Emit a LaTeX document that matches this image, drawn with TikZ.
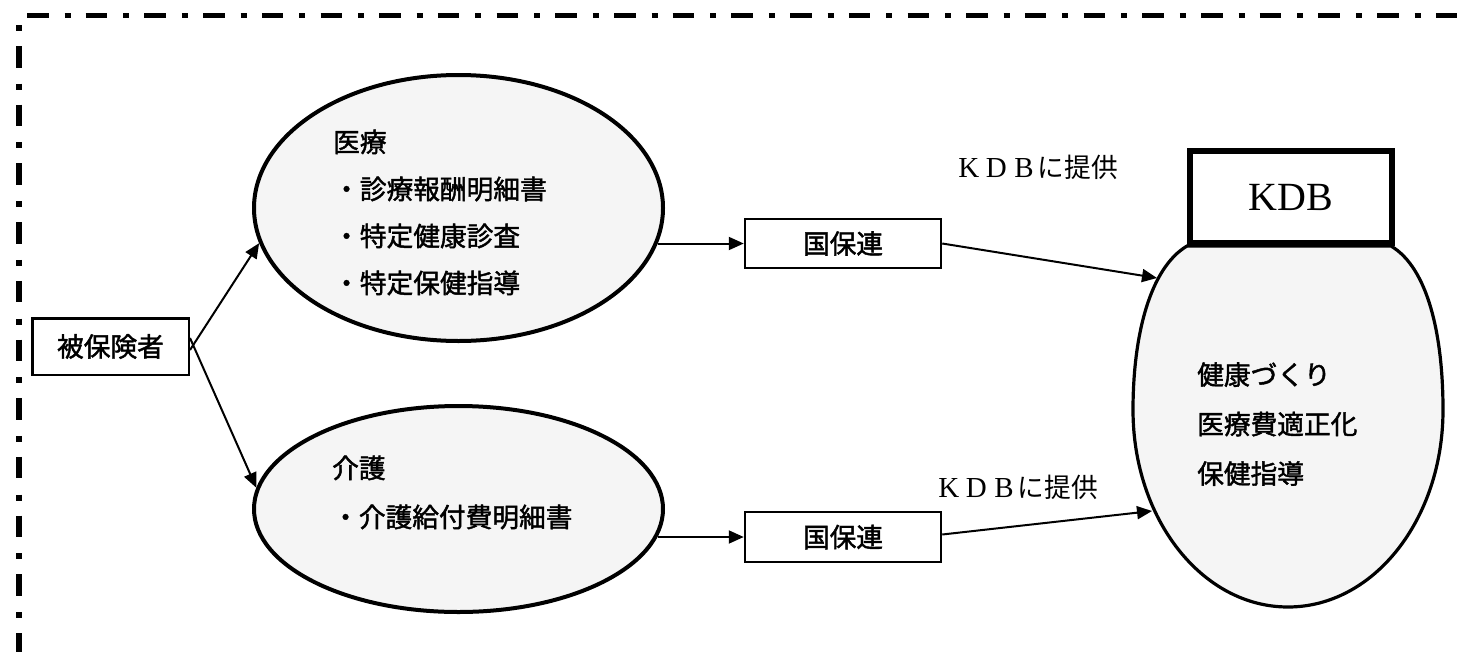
\documentclass[tikz,border=0pt]{standalone}
\usepackage{fontspec}
\setmainfont{Liberation Serif}
\newfontfamily\jp{Noto Sans CJK JP}
\newfontfamily\jpb{Noto Sans CJK JP}[FakeBold=1.6]
\usetikzlibrary{shapes.geometric,arrows.meta,calc}
\begin{document}
\begin{tikzpicture}[x=1pt,y=-1pt,
  jfont/.style={font=\jpb\fontsize{26.7}{47}\selectfont},
  box/.style={draw, rectangle, line width=2.5pt, inner sep=0pt, jfont, fill=white},
  oval/.style={draw, ellipse, line width=4pt, inner sep=0pt, fill=black!4},
  blocktext/.style={jfont, inner sep=0pt, anchor=west, align=left},
  arr/.style={line width=2pt, -{Triangle[length=15pt,width=13pt]}},
  lbl/.style={inner sep=0pt, anchor=west},
  borderline/.style={line width=5.5pt, line cap=butt}
]
\useasboundingbox (0,0) rectangle (1467,651);

% outer dash-dot frame (top and left)
\draw[borderline, dash pattern=on 21.5pt off 16pt on 6pt off 15.2pt] (27,15.7) -- (1490,15.7);
\draw[borderline, line width=6pt, dash pattern=on 6pt off 15pt on 21.5pt off 16.2pt] (19.3,25) -- (19.3,680);

% nodes
\node[box, minimum width=156.5pt, minimum height=56.5pt] (hiho) at (110.5,346.5) {被保険者};

\node[oval, minimum width=409pt, minimum height=266pt] (iryo) at (458.5,208) {};
\node[blocktext] (iryotxt) at (333,212.5) {医療\\・診療報酬明細書\\・特定健康診査\\・特定保健指導};

\node[oval, minimum width=409pt, minimum height=206pt] (kaigo) at (458.5,509) {};
\node[blocktext, font=\jpb\fontsize{26.7}{49}\selectfont] (kaigotxt) at (332,492.5) {介護\\・介護給付費明細書};

\node[box, minimum width=196pt, minimum height=49pt] (kbu1) at (843,243.5) {国保連};
\node[box, minimum width=196pt, minimum height=50pt] (kbu2) at (843,537) {国保連};

% egg-shaped KDB body
\draw[line width=3.2pt, fill=black!4]
  (1187,246) .. controls (1150,268) and (1133,335) .. (1133,410)
  .. controls (1133,519) and (1202,607) .. (1288,607)
  .. controls (1374,607) and (1443,519) .. (1443,410)
  .. controls (1443,335) and (1428,268) .. (1391,246) -- cycle;
\coordinate (eggin1) at (1157,278);
\coordinate (eggin2) at (1152,511);

\node[draw, rectangle, line width=6pt, fill=white, inner sep=0pt, minimum width=202pt, minimum height=92pt,
      font=\fontsize{40}{40}\selectfont] (kdb) at (1291,197) {KDB};
\node[blocktext, font=\jpb\fontsize{26.7}{49.5}\selectfont] (eggtxt) at (1197,424) {健康づくり\\医療費適正化\\保健指導};

% labels
\node[lbl] (prov1) at (955,167) {\fontsize{29}{29}\selectfont\makebox[27.5pt]{K}\makebox[27.5pt]{D}\makebox[27.5pt]{B}{\jp\fontsize{26.7}{27}\selectfont に提供}};
\node[lbl] (prov2) at (935,487) {\fontsize{29}{29}\selectfont\makebox[27.5pt]{K}\makebox[27.5pt]{D}\makebox[27.5pt]{B}{\jp\fontsize{26.7}{27}\selectfont に提供}};

% connectors
\draw[arr] ([yshift=-3.5pt]hiho.east) -- (iryo.190);
\draw[arr] ([yshift=8.5pt]hiho.east) -- (kaigo.174);
\draw[arr] (kbu1.west -| iryo.-10) -- (kbu1.west);
\draw[arr] (kbu2.west -| kaigo.-8) -- (kbu2.west);
\draw[arr] (kbu1.east) -- (eggin1);
\draw[arr] ([yshift=2.5pt]kbu2.east) -- (eggin2);
\end{tikzpicture}
\end{document}
